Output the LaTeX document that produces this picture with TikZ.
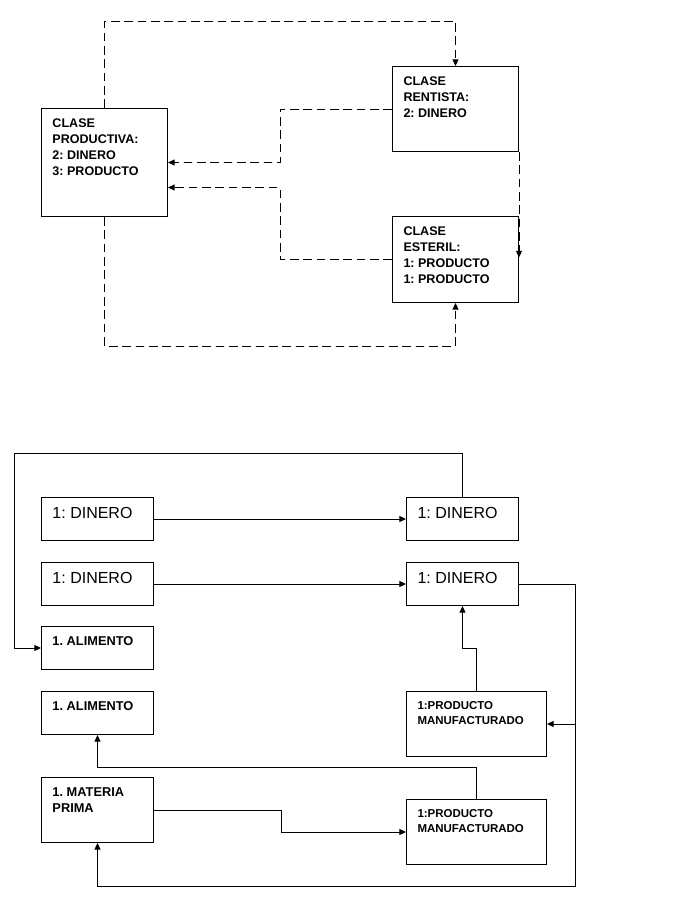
\documentclass[tikz,border=0pt]{standalone}
\usepackage{fontspec}
\setmainfont{Liberation Sans}
\usetikzlibrary{arrows.meta, calc}
\newcommand{\celda}[3]{\parbox[t][\dimexpr#2pt*3/4-15pt\relax][t]{\dimexpr#1pt*3/4-16.5pt\relax}{\raggedright\frenchspacing #3}}
\tikzset{
  clase/.style={draw, anchor=north west, inner xsep=8.25pt, inner ysep=7.5pt,
                font=\fontsize{9.4pt}{12pt}\selectfont\bfseries},
  caja/.style={draw, anchor=north west, inner xsep=8.25pt, inner ysep=7.5pt,
               font=\fontsize{9.6pt}{12pt}\selectfont\bfseries},
  dinero/.style={caja, font=\fontsize{12pt}{14pt}\selectfont},
  manuf/.style={caja, font=\fontsize{8.6pt}{11.25pt}\selectfont\bfseries},
  flujo/.style={dash pattern=on 6.5pt off 3.5pt, -{Triangle[length=5pt, width=4.5pt]}},
  flecha/.style={-{Triangle[length=5pt, width=4.5pt]}},
}

\begin{document}
\begin{tikzpicture}[x=0.75pt, y=-0.75pt, line width=0.75pt]
\useasboundingbox (0,0) rectangle (673,908);

% circulacion entre clases
\node[clase] (productiva) at (41,108) {\celda{126}{108}{CLASE\\PRODUCTIVA:\\2: DINERO\\3: PRODUCTO}};
\node[clase] (rentista)   at (392,66) {\celda{126}{85}{CLASE\\RENTISTA:\\2: DINERO}};
\node[clase] (esteril)    at (392,216) {\celda{126}{86}{CLASE\\ESTERIL:\\1: PRODUCTO\\1: PRODUCTO}};

\draw[flujo] (productiva.north) -- ++(0,-87) -| (rentista.north);
\draw[flujo] (rentista.west) -- ++(-112,0) |- (productiva.east);
\draw[flujo] (esteril.west) -- ++(-112,0) |- ($(productiva.east)+(0,25)$);
\draw[flujo] (rentista.south east) -- ($(esteril.east)+(0,-2)$);
\draw[flujo] (productiva.south) -- ++(0,129) -| (esteril.south);

% cambios de dinero y mercancias
\node[dinero] (dinizq1) at (41,497) {\celda{112}{43}{1: DINERO}};
\node[dinero] (dinder1) at (406,497) {\celda{112}{43}{1: DINERO}};
\node[dinero] (dinizq2) at (41,562) {\celda{112}{43}{1: DINERO}};
\node[dinero] (dinder2) at (406,562) {\celda{112}{43}{1: DINERO}};
\node[caja] (alim1) at (41,626) {\celda{112}{43}{1. ALIMENTO}};
\node[caja] (alim2) at (41,691) {\celda{112}{43}{1. ALIMENTO}};
\node[caja] (materia) at (41,777) {\celda{112}{65}{1. MATERIA\\PRIMA}};
\node[manuf] (manuf1) at (406,691) {\celda{140}{65}{1:PRODUCTO\\MANUFACTURADO}};
\node[manuf] (manuf2) at (406,799) {\celda{140}{65}{1:PRODUCTO\\MANUFACTURADO}};

\coordinate (bus) at ($(dinder2.east)+(56,0)$);

\draw[flecha] (dinizq1.east) -- (dinder1.west);
\draw[flecha] (dinizq2.east) -- (dinder2.west);
\draw[flecha] (dinder1.north) -- ++(0,-44) -| ($(alim1.west)+(-27,0)$) -- (alim1.west);
\draw[flecha] (dinder2.east) -- (bus) |- ($(materia.south)+(0,43)$) -- (materia.south);
\draw[flecha] (manuf1.east -| bus) -- (manuf1.east);
\draw[flecha] (manuf1.north) -- ++(0,-43) -| (dinder2.south);
\draw[flecha] (manuf2.north) -- ++(0,-32) -| (alim2.south);
\draw[flecha] (materia.east) -- ++(127,0) |- (manuf2.west);

\end{tikzpicture}
\end{document}
